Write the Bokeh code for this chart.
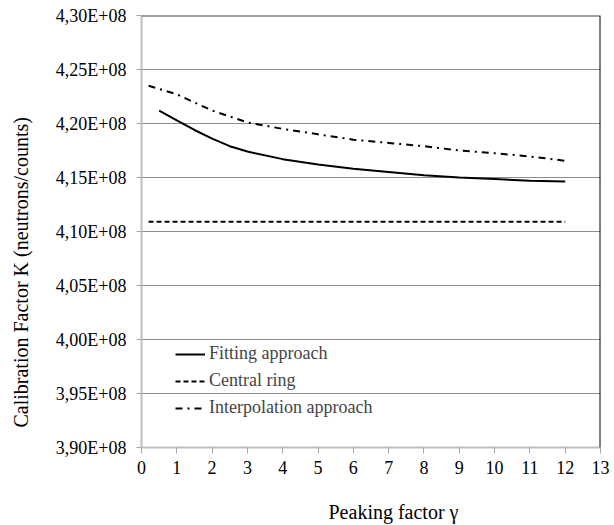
from bokeh.plotting import figure
from bokeh.models import FixedTicker, Span, Legend, LegendItem, Title
from bokeh.embed import file_html
from bokeh.resources import INLINE

# ---- data ----
fit_x = [0.5, 1, 1.5, 2, 2.5, 3, 4, 5, 6, 7, 8, 9, 10, 11, 12]
fit_y = [4.212e8, 4.203e8, 4.194e8, 4.186e8, 4.179e8, 4.174e8, 4.167e8, 4.162e8,
         4.158e8, 4.155e8, 4.152e8, 4.150e8, 4.1485e8, 4.147e8, 4.1462e8]

central_x = [0.2, 12]
central_y = [4.109e8, 4.109e8]

interp_x = [0.2, 1, 2, 3, 4, 5, 6, 7, 8, 9, 10, 11, 12]
interp_y = [4.235e8, 4.227e8, 4.212e8, 4.201e8, 4.195e8, 4.190e8, 4.185e8, 4.182e8,
            4.179e8, 4.175e8, 4.1725e8, 4.1695e8, 4.1655e8]

x_ticks = [0, 1, 2, 3, 4, 5, 6, 7, 8, 9, 10, 11, 12, 13]
y_ticks = [390000000, 395000000, 400000000, 405000000, 410000000,
           415000000, 420000000, 425000000, 430000000]
y_tick_labels = ["3,90E+08", "3,95E+08", "4,00E+08", "4,05E+08", "4,10E+08",
                 "4,15E+08", "4,20E+08", "4,25E+08", "4,30E+08"]

series_names = ["Fitting approach", "Central ring", "Interpolation approach"]
x_title = "Peaking factor \u03b3"
y_title = "Calibration Factor K (neutrons/counts)"

FONT = "Liberation Serif"

p = figure(width=614, height=525, output_backend="svg", toolbar_location=None,
           x_range=(0, 13), y_range=(3.90e8, 4.30e8))
p.min_border_left = 141
p.min_border_right = 14
p.min_border_top = 15
p.min_border_bottom = 77
p.outline_line_color = None
p.background_fill_color = "white"
p.border_fill_color = "white"

# axes
p.xaxis.ticker = FixedTicker(ticks=x_ticks)
p.yaxis.ticker = FixedTicker(ticks=y_ticks)
p.yaxis.major_label_overrides = {t: l for t, l in zip(y_ticks, y_tick_labels)}
p.axis.axis_line_color = "#c0c0c0"
p.axis.axis_line_width = 2
p.axis.major_tick_line_color = "#a6a6a6"
p.axis.major_tick_in = 0
p.axis.minor_tick_line_color = None
p.axis.major_label_text_font = FONT
p.axis.major_label_text_font_size = "18px"
p.axis.major_label_text_color = "black"
p.xaxis.major_tick_out = 6
p.yaxis.major_tick_out = 5
p.xaxis.major_label_standoff = 7
p.yaxis.major_label_standoff = 10
# spacer labels to push the titles outward
p.axis.axis_label = " "
p.axis.axis_label_standoff = 0
p.xaxis.axis_label_text_font_size = "18px"
p.yaxis.axis_label_text_font_size = "6px"

p.xgrid.grid_line_color = None
p.ygrid.grid_line_color = "#8c8c8c"
p.ygrid.grid_line_width = 1

# borders top/right
p.add_layout(Span(location=4.30e8, dimension="width", line_color="#404040", line_width=2))
p.add_layout(Span(location=13, dimension="height", line_color="black", line_width=2))

# series
r_fit = p.line(fit_x, fit_y, line_color="black", line_width=2)
r_cen = p.line(central_x, central_y, line_color="black", line_width=2, line_dash="5 3")
r_int = p.line(interp_x, interp_y, line_color="black", line_width=2, line_dash="7 5 2 5")

legend = Legend(items=[LegendItem(label=series_names[0], renderers=[r_fit]),
                       LegendItem(label=series_names[1], renderers=[r_cen]),
                       LegendItem(label=series_names[2], renderers=[r_int])],
                location=(29, 24), margin=0, padding=5, spacing=6,
                glyph_width=30, glyph_height=20, label_height=20, label_standoff=4,
                label_text_font=FONT, label_text_font_size="18px",
                background_fill_alpha=0, border_line_alpha=0)
p.add_layout(legend)

# axis titles
p.add_layout(Title(text=x_title, align="left", offset=187, standoff=2,
                   vertical_align="top", text_font=FONT, text_font_size="20px",
                   text_font_style="normal", text_color="black"), "below")
p.add_layout(Title(text=y_title, align="left", offset=20, standoff=19,
                   vertical_align="top", text_font=FONT, text_font_size="20px",
                   text_font_style="normal", text_color="black"), "left")

open("out.html", "w").write(file_html(p, INLINE))
